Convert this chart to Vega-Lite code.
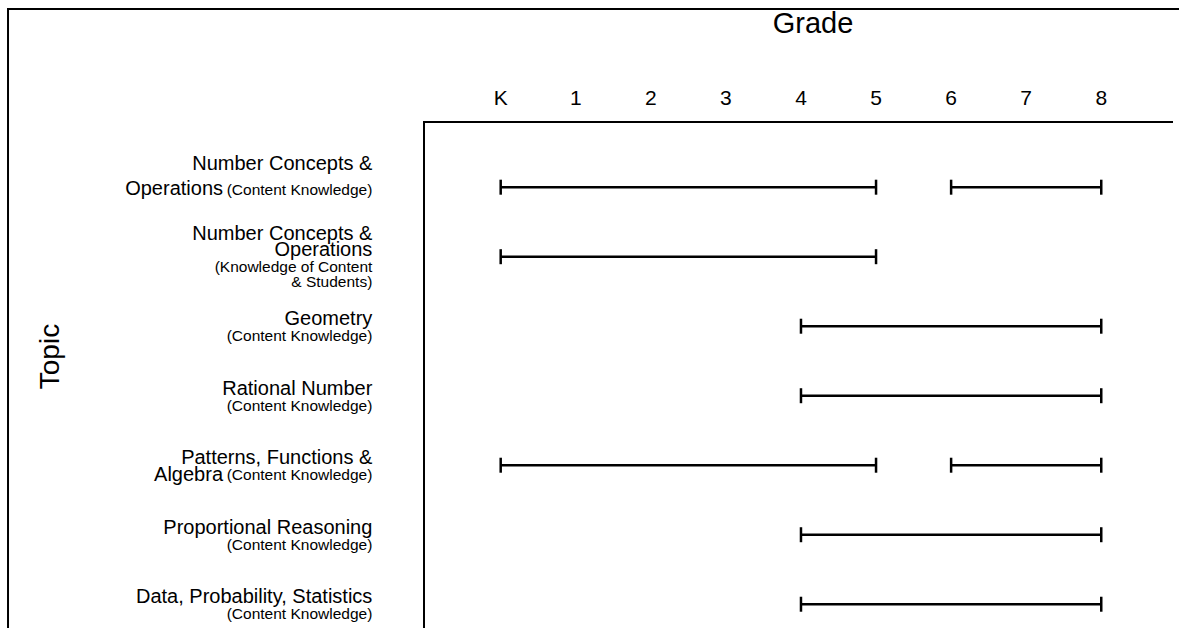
{
  "$schema": "https://vega.github.io/schema/vega-lite/v6.json",
  "width": 748,
  "height": 506,
  "autosize": {"type": "none"},
  "padding": {"left": 424, "top": 122, "right": 7, "bottom": 0},
  "background": "white",
  "config": {"font": "Liberation Sans", "view": {"stroke": null}},
  "datasets": {
    "spans": [
      {"order": 1, "topic": "Number Concepts & Operations (Content Knowledge)", "from": 0, "to": 5},
      {"order": 1, "topic": "Number Concepts & Operations (Content Knowledge)", "from": 6, "to": 8},
      {"order": 2, "topic": "Number Concepts & Operations (Knowledge of Content & Students)", "from": 0, "to": 5},
      {"order": 3, "topic": "Geometry (Content Knowledge)", "from": 4, "to": 8},
      {"order": 4, "topic": "Rational Number (Content Knowledge)", "from": 4, "to": 8},
      {"order": 5, "topic": "Patterns, Functions & Algebra (Content Knowledge)", "from": 0, "to": 5},
      {"order": 5, "topic": "Patterns, Functions & Algebra (Content Knowledge)", "from": 6, "to": 8},
      {"order": 6, "topic": "Proportional Reasoning (Content Knowledge)", "from": 4, "to": 8},
      {"order": 7, "topic": "Data, Probability, Statistics (Content Knowledge)", "from": 4, "to": 8}
    ],
    "labels": [
      {"order": 1, "big_a": "Number Concepts &", "big_m": "Operations", "small_m": "(Content Knowledge)"},
      {"order": 2, "big_a": "Number Concepts &", "big_b": "Operations", "small_c": "(Knowledge of Content", "small_d": "& Students)"},
      {"order": 3, "big_b": "Geometry", "small_c": "(Content Knowledge)"},
      {"order": 4, "big_b": "Rational Number", "small_c": "(Content Knowledge)"},
      {"order": 5, "big_b": "Patterns, Functions &", "big_c": "Algebra", "small_c": "(Content Knowledge)"},
      {"order": 6, "big_b": "Proportional Reasoning", "small_c": "(Content Knowledge)"},
      {"order": 7, "big_b": "Data, Probability, Statistics", "small_c": "(Content Knowledge)"}
    ],
    "grades": [
      {"grade": 0, "label": "K"},
      {"grade": 1, "label": "1"},
      {"grade": 2, "label": "2"},
      {"grade": 3, "label": "3"},
      {"grade": 4, "label": "4"},
      {"grade": 5, "label": "5"},
      {"grade": 6, "label": "6"},
      {"grade": 7, "label": "7"},
      {"grade": 8, "label": "8"}
    ]
  },
  "layer": [
    {
      "data": {"name": "spans"},
      "mark": {"type": "rule", "strokeWidth": 2.5, "color": "black"},
      "encoding": {
        "x": {"field": "from", "type": "quantitative", "axis": null,
              "scale": {"domain": [-1.0217, 8.9424], "nice": false, "zero": false}},
        "x2": {"field": "to"},
        "y": {"field": "order", "type": "quantitative", "axis": null,
              "scale": {"domain": [0.062, 7.342], "reverse": true, "nice": false, "zero": false}}
      }
    },
    {
      "data": {"name": "spans"},
      "mark": {"type": "tick", "orient": "vertical", "size": 15, "thickness": 2.5, "color": "black", "opacity": 1},
      "encoding": {
        "x": {"field": "from", "type": "quantitative", "axis": null},
        "y": {"field": "order", "type": "quantitative", "axis": null}
      }
    },
    {
      "data": {"name": "spans"},
      "mark": {"type": "tick", "orient": "vertical", "size": 15, "thickness": 2.5, "color": "black", "opacity": 1},
      "encoding": {
        "x": {"field": "to", "type": "quantitative", "axis": null},
        "y": {"field": "order", "type": "quantitative", "axis": null}
      }
    },
    {
      "data": {"name": "labels"},
      "transform": [{"filter": "isValid(datum.big_a)"}],
      "mark": {"type": "text", "align": "right", "baseline": "alphabetic", "dy": -17, "fontSize": 20, "color": "black"},
      "encoding": {
        "x": {"datum": -1.71, "type": "quantitative", "axis": null},
        "y": {"field": "order", "type": "quantitative", "axis": null},
        "text": {"field": "big_a"}
      }
    },
    {
      "data": {"name": "labels"},
      "transform": [{"filter": "isValid(datum.big_b)"}],
      "mark": {"type": "text", "align": "right", "baseline": "alphabetic", "dy": -1, "fontSize": 20, "color": "black"},
      "encoding": {
        "x": {"datum": -1.71, "type": "quantitative", "axis": null},
        "y": {"field": "order", "type": "quantitative", "axis": null},
        "text": {"field": "big_b"}
      }
    },
    {
      "data": {"name": "labels"},
      "transform": [{"filter": "isValid(datum.big_m)"}],
      "mark": {"type": "text", "align": "right", "baseline": "alphabetic", "dy": 8, "fontSize": 20, "color": "black"},
      "encoding": {
        "x": {"datum": -3.699, "type": "quantitative", "axis": null},
        "y": {"field": "order", "type": "quantitative", "axis": null},
        "text": {"field": "big_m"}
      }
    },
    {
      "data": {"name": "labels"},
      "transform": [{"filter": "isValid(datum.big_c)"}],
      "mark": {"type": "text", "align": "right", "baseline": "alphabetic", "dy": 16, "fontSize": 20, "color": "black"},
      "encoding": {
        "x": {"datum": -3.699, "type": "quantitative", "axis": null},
        "y": {"field": "order", "type": "quantitative", "axis": null},
        "text": {"field": "big_c"}
      }
    },
    {
      "data": {"name": "labels"},
      "transform": [{"filter": "isValid(datum.small_m)"}],
      "mark": {"type": "text", "align": "right", "baseline": "alphabetic", "dy": 8, "fontSize": 15.5, "color": "black"},
      "encoding": {
        "x": {"datum": -1.71, "type": "quantitative", "axis": null},
        "y": {"field": "order", "type": "quantitative", "axis": null},
        "text": {"field": "small_m"}
      }
    },
    {
      "data": {"name": "labels"},
      "transform": [{"filter": "isValid(datum.small_c)"}],
      "mark": {"type": "text", "align": "right", "baseline": "alphabetic", "dy": 15, "fontSize": 15.5, "color": "black"},
      "encoding": {
        "x": {"datum": -1.71, "type": "quantitative", "axis": null},
        "y": {"field": "order", "type": "quantitative", "axis": null},
        "text": {"field": "small_c"}
      }
    },
    {
      "data": {"name": "labels"},
      "transform": [{"filter": "isValid(datum.small_d)"}],
      "mark": {"type": "text", "align": "right", "baseline": "alphabetic", "dy": 30, "fontSize": 15.5, "color": "black"},
      "encoding": {
        "x": {"datum": -1.71, "type": "quantitative", "axis": null},
        "y": {"field": "order", "type": "quantitative", "axis": null},
        "text": {"field": "small_d"}
      }
    },
    {
      "data": {"name": "grades"},
      "mark": {"type": "text", "align": "center", "baseline": "alphabetic", "fontSize": 21, "color": "black"},
      "encoding": {
        "x": {"field": "grade", "type": "quantitative", "axis": null},
        "y": {"datum": -0.183, "type": "quantitative", "axis": null},
        "text": {"field": "label"}
      }
    },
    {
      "data": {"values": [{"title": "Grade"}]},
      "mark": {"type": "text", "align": "center", "baseline": "alphabetic", "fontSize": 29, "color": "black"},
      "encoding": {
        "x": {"datum": 4.16, "type": "quantitative", "axis": null},
        "y": {"datum": -1.219, "type": "quantitative", "axis": null},
        "text": {"field": "title"}
      }
    },
    {
      "data": {"values": [{"title": "Topic"}]},
      "mark": {"type": "text", "align": "center", "baseline": "alphabetic", "angle": 270, "fontSize": 28, "color": "black"},
      "encoding": {
        "x": {"datum": -5.884, "type": "quantitative", "axis": null},
        "y": {"datum": 3.436, "type": "quantitative", "axis": null},
        "text": {"field": "title"}
      }
    },
    {
      "data": {"values": [{}]},
      "mark": {"type": "rule", "strokeWidth": 2, "color": "black", "strokeCap": "square"},
      "encoding": {
        "x": {"datum": -1.0217, "type": "quantitative", "axis": null},
        "x2": {"datum": 8.9424},
        "y": {"datum": 0.062, "type": "quantitative", "axis": null}
      }
    },
    {
      "data": {"values": [{}]},
      "mark": {"type": "rule", "strokeWidth": 2, "color": "black", "strokeCap": "square"},
      "encoding": {
        "x": {"datum": -1.0217, "type": "quantitative", "axis": null},
        "y": {"datum": 0.062, "type": "quantitative", "axis": null},
        "y2": {"datum": 8.5}
      }
    },
    {
      "data": {"values": [{}]},
      "mark": {"type": "rule", "strokeWidth": 2, "color": "black", "strokeCap": "square"},
      "encoding": {
        "x": {"datum": -6.563, "type": "quantitative", "axis": null},
        "x2": {"datum": 9.5},
        "y": {"datum": -1.564, "type": "quantitative", "axis": null}
      }
    },
    {
      "data": {"values": [{}]},
      "mark": {"type": "rule", "strokeWidth": 2, "color": "black", "strokeCap": "square"},
      "encoding": {
        "x": {"datum": -6.563, "type": "quantitative", "axis": null},
        "y": {"datum": -1.564, "type": "quantitative", "axis": null},
        "y2": {"datum": 8.5}
      }
    }
  ]
}
